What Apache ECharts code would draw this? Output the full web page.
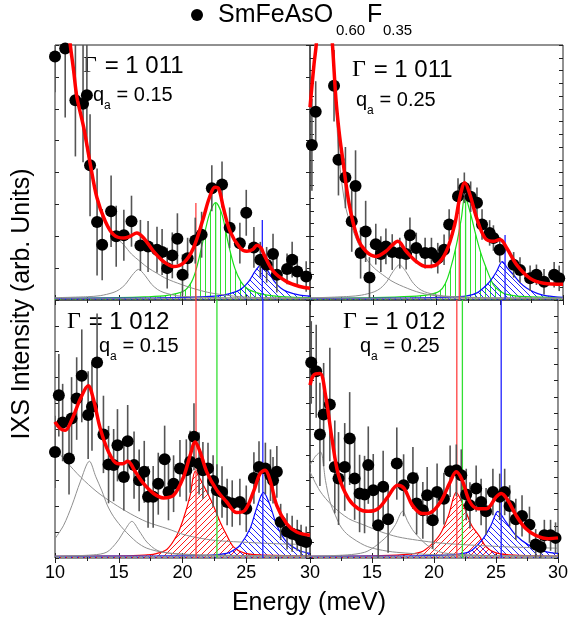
<!DOCTYPE html>
<html>
<head>
<meta charset="utf-8">
<script src="https://cdn.jsdelivr.net/npm/echarts@6/dist/echarts.min.js"></script>
<style>
  html, body { margin: 0; padding: 0; background: #fff; }
  #chart { width: 571px; height: 619px; }
</style>
</head>
<body>
<div id="chart"></div>
<script>
// ---- data (intensity in arb. units, 0-100 per panel) ----
const TL_x = [10.0, 10.8, 11.6, 12.2, 12.5, 12.75, 13.3, 13.7, 14.4, 14.8, 15.4, 16.0, 16.7, 17.3, 18.0, 18.4, 18.8, 19.2, 19.6, 20.0, 20.4, 21.0, 21.5, 22.3, 23.1, 23.7, 24.5, 25.0, 25.6, 26.1, 26.6, 27.1, 27.4, 28.2, 28.6, 29.0, 29.7]
const TL_y = [95.5, 98.6, 78.3, 77, 80.3, 52.8, 30.6, 21.7, 34.8, 25.0, 25.4, 30.9, 21.4, 21.0, 19.7, 18.8, 12.5, 17.5, 24.0, 9.9, 16.4, 23.3, 25.6, 43.8, 45.3, 28.3, 22.3, 34.2, 20.6, 15.8, 13.8, 18.0, 9.9, 12.2, 15.8, 11.2, 9.2]
const TL_err = [14, 27, 22, 23, 20, 20, 21, 14, 14, 12, 10, 10, 10, 10, 9, 9, 8, 9, 10, 8, 8, 9, 9, 9, 9, 8, 8, 9, 8, 7, 7, 8, 7, 6, 7, 6, 6]

const TR_x = [10.15, 10.45, 11.9, 12.25, 12.8, 13.3, 13.6, 14.0, 14.4, 14.7, 15.2, 15.6, 16.0, 16.5, 17.1, 17.6, 17.9, 18.4, 19.1, 19.6, 20.1, 20.6, 21.0, 21.7, 22.2, 22.7, 23.2, 23.6, 24.2, 24.5, 25.0, 26.1, 26.6, 27.4, 27.9, 28.5, 29.3, 29.7]
const TR_y = [60.8, 73.8, 84, 55, 48, 30.9, 44.7, 18.4, 26.9, 8.8, 21.9, 18, 21, 18.8, 18.4, 18, 25.4, 20.4, 18.4, 18.4, 16.4, 19.7, 29.6, 40.7, 44, 40.5, 38.1, 29.6, 26.3, 24.3, 19.7, 13.8, 11.8, 8.5, 9.9, 7.2, 9.9, 8.5]
const TR_err = [18, 12, 14, 14, 12, 12, 14, 10, 12, 8, 8, 7, 7, 7, 6, 6, 7, 6, 6, 6, 6, 6, 6, 7, 6, 6, 6, 6, 5, 5, 5, 5, 5, 5, 4, 5, 5, 5]

const BL_x = [10.0, 10.3, 10.6, 11.1, 11.3, 11.7, 12.1, 12.6, 12.9, 13.3, 13.8, 14.2, 14.6, 14.9, 15.4, 15.7, 16.2, 16.6, 17.0, 17.3, 17.7, 18.1, 18.6, 18.9, 19.3, 19.8, 20.3, 20.6, 20.9, 21.3, 21.6, 22.0, 22.4, 22.7, 23.1, 23.5, 23.9, 24.5, 25.0, 25.6, 26.0, 26.5, 26.9, 27.1, 27.4, 27.7, 28.2, 28.6, 29.0, 29.3, 29.7]
const BL_y = [41.1, 63.1, 52.5, 38.6, 54.1, 61.8, 70.6, 55.4, 58.6, 75.8, 47.9, 36.2, 36.0, 43.7, 31.4, 45.3, 36.0, 30.1, 33.4, 23.7, 23.7, 28.8, 38.3, 25.6, 28.8, 34.7, 34.0, 37.3, 47.0, 36.6, 34.0, 34.7, 29.8, 26.3, 25.6, 21.7, 21.1, 21.7, 19.1, 31.0, 35.3, 34.7, 32.1, 30.1, 33.4, 14.0, 10.3, 9.4, 8.8, 6.9, 6.2]
const BL_err = [14, 16, 15, 14, 16, 16, 18, 17, 17, 19, 15, 15, 14, 14, 13, 14, 13, 12, 12, 12, 12, 12, 13, 11, 11, 11, 12, 12, 13, 12, 11, 10, 10, 10, 10, 9, 9, 9, 9, 10, 10, 10, 10, 9, 10, 7, 7, 7, 6, 6, 6]

const BR_x = [10.1, 10.5, 10.8, 11.1, 11.6, 12.0, 12.3, 12.8, 13.2, 13.6, 14.0, 14.4, 14.7, 15.1, 15.5, 15.9, 16.3, 17.0, 17.55, 18.3, 18.6, 19.1, 19.45, 19.9, 20.25, 20.8, 21.3, 21.8, 22.2, 22.6, 22.9, 23.4, 23.8, 24.2, 24.75, 25.3, 25.7, 26.1, 26.6, 27.1, 27.7, 28.2, 28.6, 28.9, 29.4, 29.8]
const BR_y = [75.8, 72.4, 47.9, 55.6, 59.5, 35.3, 30.8, 35.3, 46.3, 30.8, 25.0, 24.6, 36.0, 26.3, 12.7, 27.6, 15.0, 36.6, 28.2, 31.0, 21.1, 18.5, 24.3, 14.6, 25.6, 23.0, 33.6, 34.0, 32.1, 24.6, 20.4, 26.9, 21.7, 18.1, 25.6, 23.7, 25.6, 20.2, 15.0, 16.3, 12.9, 5.2, 4.3, 8.8, 8.8, 7.8]
const BR_err = [16, 18, 20, 20, 22, 18, 18, 17, 18, 16, 15, 15, 15, 14, 14, 14, 13, 14, 12, 12, 12, 11, 11, 11, 11, 10, 10, 10, 10, 10, 9, 9, 9, 9, 9, 9, 9, 8, 8, 8, 7, 6, 6, 6, 6, 6]

// fitted curves, [energy, intensity]
const TL_fit = [[10, 170], [10.4, 140], [10.8, 118], [11.2, 100], [11.46, 90], [11.72, 79.5], [12.25, 67.7], [12.77, 53.2], [13.29, 40.1], [13.94, 30.9], [14.6, 25.6], [15.38, 24.3], [15.9, 25], [16.42, 26.3], [16.95, 24.3], [17.73, 19.1], [18.51, 15.1], [19.3, 13.1], [20.08, 14.5], [20.86, 20.4], [21.64, 32.2], [22.1, 40], [22.55, 44.2], [22.85, 43.5], [23.21, 36.1], [23.73, 26.9], [24.52, 20.4], [25.04, 19.1], [25.5, 19.8], [25.85, 21.5], [26.15, 20.5], [26.4, 17.7], [27.13, 11.2], [28.17, 7.2], [29.2, 5.3], [30, 4.6]]
const TL_bg = [[10, 170], [10.4, 140], [10.8, 118], [11.2, 100], [11.7, 82], [12.25, 66], [12.77, 52], [13.29, 40], [14.07, 29.6], [14.7, 25], [15.38, 21.7], [16, 18], [16.68, 15.1], [17.3, 12.6], [17.99, 10.5], [18.6, 8.7], [19.3, 7.2], [20.6, 4.9], [21.5, 3.6], [22.4, 2.6], [24.5, 1.3], [27.1, 0.8], [30, 0.6]]
const TL_gray = [[10, 0.9], [12.55, 1.3], [13.55, 1.7], [14.55, 2.9], [15.05, 4.1], [15.55, 6.3], [16.05, 9.7], [16.55, 12], [17.05, 9.7], [17.55, 6.3], [18.05, 4.1], [18.55, 2.9], [19.55, 1.7], [20.55, 1.3], [23, 0.9], [30, 0.7]]
const TL_green = [[10, 0.6], [15, 0.9], [17, 1.2], [18.8, 1.8], [20.1, 3.5], [20.7, 7], [21.1, 12.5], [21.6, 23], [22.1, 33.5], [22.6, 38.2], [23.1, 33.5], [23.6, 22], [24.1, 12.5], [24.6, 7], [25.1, 4.4], [26, 2.6], [27.1, 1.6], [28.5, 1.1], [30, 0.9]]
const TL_blue = [[10, 0.65], [18, 0.8], [20.2, 1.0], [22.2, 1.4], [23.2, 1.9], [24.2, 3.3], [24.7, 4.7], [25.2, 7.3], [25.7, 11.3], [26.2, 14], [26.7, 11.3], [27.2, 7.3], [27.7, 4.7], [28.2, 3.3], [29.2, 1.9], [30, 1.5]]

const TR_fit = [[10, 75.6], [10.32, 92.6], [10.5, 100.5], [10.8, 125], [11.1, 135], [11.45, 120], [11.77, 100.5], [12.04, 79.5], [12.3, 66], [12.57, 55.8], [13.1, 37.5], [13.76, 24.3], [14.42, 19.1], [15.22, 17.1], [16, 19.1], [16.5, 21.5], [16.94, 23], [17.6, 19.1], [18.4, 15.1], [19.19, 13.1], [19.99, 13.8], [20.78, 19.1], [21.44, 29.6], [21.84, 40.1], [22.24, 46], [22.64, 41.4], [23.17, 32.2], [23.83, 24.3], [24.49, 23], [25.02, 23.7], [25.55, 20.4], [26.34, 13.8], [27.4, 8.5], [28.46, 6.6], [30, 6.2]]
const TR_bg = [[10, 75], [10.3, 92], [10.5, 102], [10.8, 125], [11.1, 134], [11.45, 118], [11.77, 99], [12.04, 77], [12.3, 55.8], [12.83, 36.1], [13.63, 24.3], [14.42, 16.4], [15.08, 12.5], [15.75, 9.9], [16.4, 7.6], [17.07, 5.9], [18.4, 3.3], [19.72, 1.8], [22.4, 0.9], [26, 0.7], [30, 0.7]]
const TR_gray = [[10, 0.8], [13.07, 1.4], [14.07, 1.9], [15.07, 3.2], [15.57, 4.6], [16.07, 7.2], [16.57, 11.2], [17.07, 13.8], [17.57, 11.2], [18.07, 7.2], [18.57, 4.6], [19.07, 3.2], [20.07, 1.9], [21.07, 1.4], [24, 0.9], [30, 0.7]]
const TR_green = [[10, 0.6], [15, 0.9], [18, 1.4], [19.5, 2.2], [20.25, 3.5], [20.7, 6.5], [21.05, 11.2], [21.58, 21.7], [21.97, 32.2], [22.24, 40.7], [22.64, 34.8], [23.17, 24.3], [23.5, 18.5], [23.83, 13.8], [24.49, 6], [25, 3.5], [25.55, 2.2], [27, 1.3], [30, 0.9]]
const TR_blue = [[10, 0.6], [18, 0.8], [21, 1.1], [22.4, 1.6], [23.2, 2.8], [23.96, 5.9], [24.4, 8.5], [24.75, 11.2], [25.2, 15.1], [25.6, 12.5], [26.08, 9.9], [26.6, 6.8], [27.14, 4.6], [28, 2.5], [28.73, 1.6], [30, 1.0]]

const BL_fit = [[10, 52.8], [10.4, 50.2], [10.8, 49.5], [11.3, 53.4], [12, 61.8], [12.6, 66.8], [13, 61.8], [13.55, 50.2], [14.2, 41.1], [14.86, 36.6], [15.3, 36.5], [15.7, 37.5], [16.3, 33.4], [16.95, 28.8], [17.73, 25], [18.5, 23.3], [19.3, 24.3], [20.08, 31.4], [20.6, 39.8], [21, 45], [21.38, 41.1], [21.9, 33.4], [22.69, 26.3], [23.47, 21.7], [24.26, 17.6], [24.9, 18.5], [25.56, 25.6], [26.08, 32.7], [26.48, 34], [26.87, 30.1], [27.39, 20.4], [28.17, 13.3], [28.96, 10.1], [30, 8.8]]
const BL_bg = [[10, 42.4], [10.9, 37.3], [12, 31.4], [13.3, 25.6], [14.6, 21.1], [15.9, 17.2], [17.2, 14], [18.8, 11.4], [20.3, 8.8], [22.4, 6.9], [24.5, 6.2], [27, 5.6], [30, 5.2]]
const BL_gray1 = [[10, 7.5], [10.68, 12.7], [11.33, 20.4], [11.98, 29.5], [12.7, 37.5], [13.2, 31.5], [13.68, 26], [14.1, 20.5], [14.6, 16], [15.4, 11], [16.4, 6.2], [17.2, 3.8], [18.5, 2.2], [20.5, 1.4], [24, 1], [30, 0.8]]
const BL_gray2 = [[10, 0.7], [13, 1.2], [14.07, 2.3], [14.86, 6.2], [15.5, 11], [16.03, 14.2], [16.6, 10.5], [17.2, 6.2], [18, 3], [19, 1.8], [21, 1.1], [25, 0.8], [30, 0.7]]
const BL_red = [[10, 0.6], [15, 0.8], [17, 1.1], [17.86, 1.6], [18.77, 3.3], [19.56, 8.8], [20.08, 15.3], [20.6, 24.3], [21, 33.6], [21.64, 28.2], [22.3, 21.7], [22.95, 14], [23.47, 8.8], [24, 4.3], [24.8, 2], [26, 1.2], [30, 0.8]]
const BL_blue = [[10, 0.6], [18, 0.8], [22, 1.0], [23.47, 1.8], [24, 3], [24.52, 5], [25.3, 11.4], [25.8, 19.1], [26.35, 25.4], [26.87, 20.4], [27.39, 12.7], [28.17, 6.2], [29.2, 2.8], [30, 1.8]]

const BR_fit = [[10, 67], [10.3, 70.9], [10.8, 71.5], [11.25, 63.1], [11.77, 46.3], [12.3, 32.1], [13.1, 23], [13.9, 19.1], [14.69, 18.1], [15.48, 19.1], [16.28, 23.7], [17.07, 28.2], [17.6, 26.9], [18.26, 20.4], [19.06, 17.2], [19.72, 17.6], [20.52, 21.7], [21.31, 29.5], [21.79, 33.4], [22.24, 30.5], [22.9, 21.7], [23.56, 19.1], [24.23, 19.1], [25.02, 23.7], [25.42, 25], [25.95, 22.4], [26.61, 16.6], [27.4, 11.4], [28.2, 8.8], [29.26, 7.5], [30, 7.8]]
const BR_elastic = [[10, 36], [10.45, 39.5], [10.85, 41.1], [11.25, 30], [11.6, 22], [12.04, 16.6], [12.5, 12], [13.1, 8.8], [14.4, 4.9], [15.5, 3.3], [17, 2.2], [20, 1.3], [25, 0.9], [30, 0.7]]
const BR_bg = [[10, 33.4], [10.8, 26], [11.77, 20.4], [13.1, 15.3], [14.4, 12.7], [15.75, 10.1], [17.07, 8.2], [18.66, 6.9], [20.5, 5.8], [23, 5], [26, 4.3], [30, 3.8]]
const BR_gray = [[10, 0.7], [13, 1.2], [14.4, 2.2], [15.2, 4.3], [16.28, 8.8], [16.9, 13], [17.47, 18.1], [17.9, 14], [18.4, 10.1], [19.46, 4.9], [20.5, 2.3], [22, 1.4], [25, 0.9], [30, 0.7]]
const BR_red = [[10, 0.6], [15, 0.8], [17.5, 1.3], [18.93, 2.3], [19.72, 4.9], [20.52, 9.4], [21.18, 16.6], [21.79, 25.4], [22.37, 20.4], [23.03, 12.7], [23.7, 8.2], [24.2, 4.3], [25, 2], [26.5, 1.1], [30, 0.7]]
const BR_blue = [[10, 0.6], [18, 0.8], [20, 1.0], [21.6, 1.3], [22.9, 2.5], [23.96, 7.5], [24.6, 12.7], [25.15, 18.1], [25.8, 14], [26.6, 8.8], [27.67, 4.9], [29, 2.5], [30, 1.8]]

const baseline = [[10, 0.7], [30, 0.7]]

// guide lines: red, green, blue mode energies and how high they reach
const TL_guideX = [21.05, 22.6, 26.26], TL_guideTop = [38, 38.2, 31.4]
const TR_guideX = [21.8, 22.3, 25.42], TR_guideTop = [42, 40.7, 25.5]
const BL_guideX = [21.06, 22.7, 26.3], BL_guideTop = [100, 100, 100]
const BR_guideX = [21.84, 22.29, 25.42], BR_guideTop = [100, 100, 100]

const xTicks = [10, 15, 20, 25, 30]
const gammaLabels = ['1 011', '1 011', '1 012', '1 012']
const qLabels = ['0.15', '0.25', '0.15', '0.25']

// ---- styling ----
const FONT = '"Liberation Sans", Arial, sans-serif'
const RED = '#ff0000', GREEN = '#19dd19', BLUE = '#0a0aff', GRAY = '#8f8f8f'
const guideColors = ['#ff4040', '#33e033', '#2020ff']

function hatch(color, kind, s) {
  const c = document.createElement('canvas')
  c.width = s; c.height = s
  const g = c.getContext('2d')
  g.strokeStyle = color
  g.lineWidth = 0.9
  g.beginPath()
  if (kind === '|') {
    g.moveTo(0.5, 0); g.lineTo(0.5, s)
  } else if (kind === '\\') {
    g.moveTo(-1, -1); g.lineTo(s + 1, s + 1)
    g.moveTo(-1, s - 1); g.lineTo(1, s + 1)
    g.moveTo(s - 1, -1); g.lineTo(s + 1, 1)
  } else {
    g.moveTo(-1, s + 1); g.lineTo(s + 1, -1)
    g.moveTo(-1, 1); g.lineTo(1, -1)
    g.moveTo(s - 1, s + 1); g.lineTo(s + 1, s - 1)
  }
  g.stroke()
  return { image: c, repeat: 'repeat' }
}
const hatchGreen = hatch(GREEN, '|', 5)
const hatchBlue = hatch(BLUE, '\\', 6)
const hatchRed = hatch(RED, '/', 6)

const panels = [
  { x: TL_x, y: TL_y, err: TL_err, fit: TL_fit, grays: [TL_bg, TL_gray, baseline],
    peaks: [[TL_green, GREEN, hatchGreen], [TL_blue, BLUE, hatchBlue]], gx: TL_guideX, gt: TL_guideTop, yInt: 12.5 },
  { x: TR_x, y: TR_y, err: TR_err, fit: TR_fit, grays: [TR_bg, TR_gray, baseline],
    peaks: [[TR_green, GREEN, hatchGreen], [TR_blue, BLUE, hatchBlue]], gx: TR_guideX, gt: TR_guideTop, yInt: 5 },
  { x: BL_x, y: BL_y, err: BL_err, fit: BL_fit, grays: [BL_bg, BL_gray1, BL_gray2, baseline],
    peaks: [[BL_red, RED, hatchRed], [BL_blue, BLUE, hatchBlue]], gx: BL_guideX, gt: BL_guideTop, yInt: 10 },
  { x: BR_x, y: BR_y, err: BR_err, fit: BR_fit, grays: [BR_elastic, BR_bg, BR_gray, baseline],
    peaks: [[BR_red, RED, hatchRed], [BR_blue, BLUE, hatchBlue]], gx: BR_guideX, gt: BR_guideTop, yInt: 6.25 }
]

const grids = [
  { left: 55, top: 45, width: 255, height: 255 },
  { left: 310, top: 45, width: 253, height: 255 },
  { left: 55, top: 300, width: 255, height: 258 },
  { left: 310, top: 300, width: 253, height: 258 }
].map(g => Object.assign(g, { show: true, borderColor: '#222', borderWidth: 1, backgroundColor: 'transparent' }))

const xAxis = [], yAxis = [], series = []
panels.forEach((p, i) => {
  const bottomRow = i >= 2
  const xBase = {
    type: 'value', gridIndex: i, min: xTicks[0], max: xTicks[xTicks.length - 1], interval: 5,
    axisLine: { show: false },
    axisTick: { inside: true, length: 5, lineStyle: { color: '#222' } },
    minorTick: { show: true, splitNumber: 2, length: 3, lineStyle: { color: '#222' } },
    splitLine: { show: false }
  }
  xAxis.push(Object.assign({}, xBase, {
    position: 'bottom',
    axisLabel: {
      show: bottomRow, margin: 6, fontFamily: FONT, fontSize: 18, color: '#000',
      formatter: v => (i === 3 && v === 10) ? '' : String(v)
    }
  }))
  xAxis.push(Object.assign({}, xBase, { position: 'top', axisLabel: { show: false } }))
  const yBase = {
    type: 'value', gridIndex: i, min: 0, max: 100, interval: p.yInt,
    axisLine: { show: false },
    axisTick: { inside: true, length: 4, lineStyle: { color: '#222' } },
    axisLabel: { show: false },
    splitLine: { show: false }
  }
  yAxis.push(Object.assign({}, yBase, { position: 'left' }))
  yAxis.push(Object.assign({}, yBase, { position: 'right' }))

  const xi = 2 * i, yi = 2 * i
  p.peaks.forEach(([d, col, pat]) => {
    series.push({
      type: 'line', xAxisIndex: xi, yAxisIndex: yi, data: d, smooth: 0.3, showSymbol: false,
      lineStyle: { color: col, width: 1.2 }, areaStyle: { color: pat, opacity: 1 }, z: 1, silent: true
    })
  })
  p.grays.forEach(d => {
    series.push({
      type: 'line', xAxisIndex: xi, yAxisIndex: yi, data: d, smooth: 0.3, showSymbol: false,
      lineStyle: { color: GRAY, width: 1 }, z: 2, silent: true
    })
  })
  p.gx.forEach((gx, k) => {
    series.push({
      type: 'line', xAxisIndex: xi, yAxisIndex: yi, data: [[gx, 0], [gx, p.gt[k]]], showSymbol: false,
      lineStyle: { color: guideColors[k], width: 1.3 }, z: 3, silent: true
    })
  })
  series.push({
    type: 'custom', xAxisIndex: xi, yAxisIndex: yi, clip: true, z: 4, silent: true,
    data: p.x.map((v, k) => [v, p.y[k] - p.err[k], p.y[k] + p.err[k]]),
    encode: { x: 0, y: [1, 2] },
    renderItem: (params, api) => {
      const lo = api.coord([api.value(0), api.value(1)])
      const hi = api.coord([api.value(0), api.value(2)])
      return { type: 'line', shape: { x1: lo[0], y1: lo[1], x2: hi[0], y2: hi[1] }, style: { stroke: '#555', lineWidth: 1.6 } }
    }
  })
  series.push({
    type: 'scatter', xAxisIndex: xi, yAxisIndex: yi, data: p.x.map((v, k) => [v, p.y[k]]),
    symbol: 'circle', symbolSize: 12, itemStyle: { color: '#000', opacity: 1 }, z: 5, silent: true
  })
  series.push({
    type: 'line', xAxisIndex: xi, yAxisIndex: yi, data: p.fit, smooth: 0.35, showSymbol: false,
    lineStyle: { color: RED, width: 3.5 }, z: 6, silent: true
  })
})

// text helper: x = left edge, y = vertical middle of the glyphs
function txt(x, y, text, font) {
  return { type: 'text', x: x, y: y, style: { text: text, font: font, fill: '#000', align: 'left', verticalAlign: 'middle' } }
}

// panel annotations (Gamma point and q_a)
const annotPos = [
  { gx: 83, gy: 66, qx: 93, qy: 95 },
  { gx: 352, gy: 70, qx: 356, qy: 100 },
  { gx: 67, gy: 322, qx: 99, qy: 346 },
  { gx: 343, gy: 322, qx: 360, qy: 346 }
]
const graphic = []
annotPos.forEach((a, i) => {
  graphic.push(txt(a.gx, a.gy, 'Γ', '24px "Liberation Serif", serif'))
  graphic.push(txt(a.gx + 15, a.gy, ' = ' + gammaLabels[i], '24px ' + FONT))
  graphic.push(txt(a.qx, a.qy, 'q', '20px ' + FONT))
  graphic.push(txt(a.qx + 11, a.qy + 11, 'a', '12px ' + FONT))
  graphic.push(txt(a.qx + 18, a.qy, ' = ' + qLabels[i], '20px ' + FONT))
})
// legend
graphic.push({ type: 'circle', shape: { cx: 197, cy: 15, r: 6 }, style: { fill: '#000' } })
graphic.push(txt(218, 15, 'SmFeAsO', '25px ' + FONT))
graphic.push(txt(336, 31, '0.60', '15px ' + FONT))
graphic.push(txt(367, 15, 'F', '25px ' + FONT))
graphic.push(txt(383, 31, '0.35', '15px ' + FONT))
// axis names
graphic.push({ type: 'text', x: 309, y: 603, style: { text: 'Energy (meV)', font: '25px ' + FONT, fill: '#000', align: 'center', verticalAlign: 'middle' } })
graphic.push({ type: 'text', x: 22, y: 304, rotation: Math.PI / 2, style: { text: 'IXS Intensity (arb. Units)', font: '25px ' + FONT, fill: '#000', align: 'center', verticalAlign: 'middle' } })

const chart = echarts.init(document.getElementById('chart'), null, { renderer: 'canvas' })
chart.setOption({
  animation: false,
  backgroundColor: '#fff',
  grid: grids,
  xAxis: xAxis,
  yAxis: yAxis,
  series: series,
  graphic: graphic
})
</script>
</body>
</html>
